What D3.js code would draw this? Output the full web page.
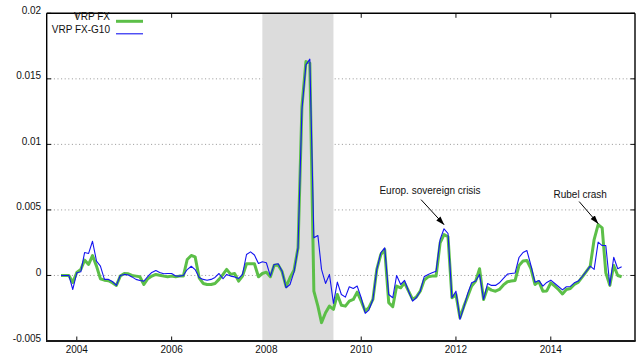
<!DOCTYPE html>
<html>
<head>
<meta charset="utf-8">
<script src="https://cdn.jsdelivr.net/npm/d3@7"></script>
<style>
  body { margin: 0; background: #fff; }
  svg { display: block; }
  text { font-family: "Liberation Sans", Arial, Helvetica, sans-serif; font-size: 10px; fill: #111; }
</style>
</head>
<body>
<svg id="chart" width="640" height="358"></svg>
<script>
// Monthly variance risk premium series, first observation September 2003
const firstMonth = "2003-09";

const vrpFx = [
  0, 0, 0, -0.00053, 0.00023, 0.00046, 0.00117, 0.00084, 0.00152, 0.00071,
  -0.00025, -0.00036, -0.00040, -0.00056, -0.00076, -0.00005, 0.00015, 0.00013, 0, -0.00005,
  -0.00010, -0.00069, -0.00025, -0.00005, 0.00008, 0.00002, -0.00005, -0.00010, -0.00005, -0.00010,
  -0.00005, -0.00005, 0.00122, 0.00152, 0.00142, -0.00018, -0.00061, -0.00069, -0.00069, -0.00061,
  -0.00030, 0.00008, 0.00046, 0.00008, 0.00015, -0.00043, -0.00005, 0.00089, 0.00089, 0.00089,
  -0.00010, 0.00015, 0.00025, -0.00010, 0.00078, 0.00080, 0.00030, -0.00086, -0.00018, 0.00040,
  0.00211, 0.01289, 0.01632, 0.01620, -0.00120, -0.00234, -0.00360, -0.00284, -0.00234, -0.00259,
  -0.00145, -0.00228, -0.00234, -0.00196, -0.00183, -0.00127, -0.00196, -0.00272, -0.00246, -0.00183,
  0.00046, 0.00160, 0.00198, -0.00208, -0.00238, -0.00081, -0.00094, -0.00056, -0.00120, -0.00183,
  -0.00165, -0.00120, -0.00036, -0.00010, -0.00005, -0.00005, 0.00249, 0.00312, 0.00295, -0.00170,
  -0.00145, -0.00322, -0.00238, -0.00158, -0.00081, -0.00043, 0.00051, -0.00183, -0.00094, -0.00112,
  -0.00120, -0.00107, -0.00072, -0.00048, -0.00043, -0.00038, 0.00076, 0.00110, 0.00114, 0.00053,
  -0.00069, -0.00046, -0.00120, -0.00118, -0.00056, -0.00081, -0.00107, -0.00141, -0.00107, -0.00099,
  -0.00069, -0.00051, -0.00011, 0.00030, 0.00071, 0.00274, 0.00388, 0.00363, 0.00021, -0.00076,
  0.00076, 0, -0.00010
];

const vrpFxG10 = [
  0, 0, 0, -0.00107, 0.00020, 0.00028, 0.00175, 0.00168, 0.00261, 0.00109,
  0.00071, -0.00030, -0.00030, -0.00046, -0.00076, 0, 0.00008, 0.00004, -0.00011, -0.00030,
  -0.00038, -0.00043, -0.00008, 0.00023, 0.00038, 0.00023, 0.00013, 0.00015, 0.00015, -0.00004,
  -0.00005, 0, 0.00045, 0.00070, 0.00045, -0.00015, -0.00030, -0.00036, -0.00030, -0.00015,
  0.00015, -0.00025, 0.00008, -0.00005, -0.00011, -0.00023, 0.00008, 0.00160, 0.00180, 0.00156,
  0.00091, 0.00104, 0.00097, -0.00005, 0.00084, 0.00089, 0.00033, -0.00094, -0.00069, 0.00025,
  0.00211, 0.01264, 0.01607, 0.01650, 0.00287, 0.00305, 0.00046, -0.00061, 0.00008, -0.00213,
  -0.00051, -0.00145, -0.00165, -0.00086, -0.00099, -0.00081, -0.00170, -0.00289, -0.00264, -0.00183,
  0.00046, 0.00173, 0.00211, -0.00145, -0.00170, 0, -0.00069, -0.00038, -0.00120, -0.00196,
  -0.00170, -0.00120, -0.00010, 0.00008, 0.00020, 0.00033, 0.00274, 0.00356, 0.00320, -0.00170,
  -0.00120, -0.00335, -0.00246, -0.00137, -0.00056, -0.00043, 0.00008, -0.00183, -0.00061, -0.00076,
  -0.00076, -0.00056, -0.00023, 0.00010, 0.00015, 0.00019, 0.00137, 0.00175, 0.00190, 0.00076,
  -0.00051, -0.00038, -0.00081, -0.00053, -0.00036, -0.00061, -0.00084, -0.00110, -0.00086, -0.00084,
  -0.00056, -0.00043, -0.00008, 0.00030, 0.00071, 0.00046, 0.00254, 0.00228, 0.00228, -0.00076,
  0.00139, 0.00051, 0.00066
];

const seriesNames = ["VRP FX", "VRP FX-G10"];
const seriesColors = ["#5cbf48", "#1414f0"];

const yTicks = [-0.005, 0, 0.005, 0.01, 0.015, 0.02];
const yTickLabels = ["-0.005", "0", "0.005", "0.01", "0.015", "0.02"];
const yGridTicks = [0, 0.005, 0.01, 0.015];
const xTickYears = [2004, 2006, 2008, 2010, 2012, 2014];

// NBER recession band
const recessionMonths = ["2007-12", "2009-06"];

const annotations = [
  { text: "Europ. sovereign crisis", month: "2011-10", value: 0.00388, from: [-23, -25], label: [-14, -30.5] },
  { text: "Rubel crash", month: "2015-01", value: 0.00396, from: [-19, -22], label: [-18, -25.5] }
];

// ---------------------------------------------------------------------------
const parseMonth = d3.timeParse("%Y-%m");
const start = parseMonth(firstMonth);
const dates = vrpFx.map((_, i) => d3.timeMonth.offset(start, i));

const svg = d3.select("#chart");
const plot = { left: 46.7, right: 635, top: 13.3, bottom: 341 };

const x = d3.scaleTime()
  .domain([new Date(2003, 4, 14), new Date(2015, 9, 12)])
  .range([plot.left, plot.right]);
const y = d3.scaleLinear()
  .domain([-0.005, 0.02])
  .range([plot.bottom, plot.top]);

// dotted horizontal grid
svg.append("g")
  .selectAll("line")
  .data(yGridTicks)
  .join("line")
  .attr("x1", plot.left).attr("x2", plot.right)
  .attr("y1", d => y(d)).attr("y2", d => y(d))
  .attr("stroke", "#8a8a8a")
  .attr("stroke-width", 0.9)
  .attr("stroke-dasharray", "1,2.6");

// tick marks on all four sides, pointing inward
const tickLen = 4.5;
const ticks = svg.append("g").attr("stroke", "#111").attr("stroke-width", 1);
ticks.selectAll(".yl").data(yTicks).join("line")
  .attr("x1", plot.left).attr("x2", plot.left + tickLen)
  .attr("y1", d => y(d)).attr("y2", d => y(d));
ticks.selectAll(".yr").data(yTicks).join("line")
  .attr("x1", plot.right).attr("x2", plot.right - tickLen)
  .attr("y1", d => y(d)).attr("y2", d => y(d));
ticks.selectAll(".xb").data(xTickYears).join("line")
  .attr("x1", d => x(new Date(d, 0, 1))).attr("x2", d => x(new Date(d, 0, 1)))
  .attr("y1", plot.bottom).attr("y2", plot.bottom - tickLen);
ticks.selectAll(".xt").data(xTickYears).join("line")
  .attr("x1", d => x(new Date(d, 0, 1))).attr("x2", d => x(new Date(d, 0, 1)))
  .attr("y1", plot.top).attr("y2", plot.top + tickLen);

// recession shading
const r0 = parseMonth(recessionMonths[0]);
const r1 = parseMonth(recessionMonths[1]);
svg.append("rect")
  .attr("x", x(r0))
  .attr("y", plot.top)
  .attr("width", x(r1) - x(r0))
  .attr("height", plot.bottom - plot.top)
  .attr("fill", "#dcdcdc");

// series
const line = values => d3.line()
  .x((_, i) => x(dates[i]))
  .y(d => y(d))(values);

svg.append("path")
  .attr("d", line(vrpFx))
  .attr("fill", "none")
  .attr("stroke", seriesColors[0])
  .attr("stroke-width", 3)
  .attr("stroke-linejoin", "round");

svg.append("path")
  .attr("d", line(vrpFxG10))
  .attr("fill", "none")
  .attr("stroke", seriesColors[1])
  .attr("stroke-width", 1.1)
  .attr("stroke-linejoin", "round");

// frame
const frame = svg.append("g").attr("stroke", "#000").attr("fill", "none");
frame.append("line").attr("x1", plot.left).attr("x2", plot.right).attr("y1", plot.top).attr("y2", plot.top).attr("stroke-width", 1.4);
frame.append("line").attr("x1", plot.left).attr("x2", plot.left).attr("y1", plot.top).attr("y2", plot.bottom).attr("stroke-width", 1.4);
frame.append("line").attr("x1", plot.right).attr("x2", plot.right).attr("y1", plot.top).attr("y2", plot.bottom).attr("stroke-width", 1.4);
frame.append("line").attr("x1", plot.left - 0.7).attr("x2", plot.right + 0.7).attr("y1", plot.bottom).attr("y2", plot.bottom).attr("stroke-width", 2).attr("stroke", "#1a1a1a");

// tick labels
svg.append("g").selectAll("text").data(yTicks).join("text")
  .attr("x", plot.left - 5.5)
  .attr("y", d => y(d) + 0.5)
  .attr("text-anchor", "end")
  .text((d, i) => yTickLabels[i]);

svg.append("g").selectAll("text").data(xTickYears).join("text")
  .attr("x", d => x(new Date(d, 0, 1)))
  .attr("y", 353)
  .attr("text-anchor", "middle")
  .text(d => d);

// legend
const legend = svg.append("g");
seriesNames.forEach((name, i) => {
  const ly = 20 + i * 12.5;
  legend.append("text")
    .attr("x", 110)
    .attr("y", ly)
    .attr("text-anchor", "end")
    .text(name);
  legend.append("line")
    .attr("x1", 116).attr("x2", 143)
    .attr("y1", ly + 1.3).attr("y2", ly + 1.3)
    .attr("stroke", seriesColors[i])
    .attr("stroke-width", i === 0 ? 3 : 1.1);
});

// annotations with arrows
svg.append("defs").append("marker")
  .attr("id", "arrowhead")
  .attr("viewBox", "0 -4 10 8")
  .attr("refX", 9.5).attr("refY", 0)
  .attr("markerWidth", 9).attr("markerHeight", 7)
  .attr("markerUnits", "userSpaceOnUse")
  .attr("orient", "auto")
  .append("path")
  .attr("d", "M0,-3.2L10,0L0,3.2Z")
  .attr("fill", "#000");

annotations.forEach(a => {
  const tx = x(parseMonth(a.month));
  const ty = y(a.value);
  svg.append("line")
    .attr("x1", tx + a.from[0]).attr("y1", ty + a.from[1])
    .attr("x2", tx).attr("y2", ty)
    .attr("stroke", "#000").attr("stroke-width", 1)
    .attr("marker-end", "url(#arrowhead)");
  svg.append("text")
    .attr("x", tx + a.label[0])
    .attr("y", ty + a.label[1])
    .attr("text-anchor", "middle")
    .text(a.text);
});
</script>
</body>
</html>
